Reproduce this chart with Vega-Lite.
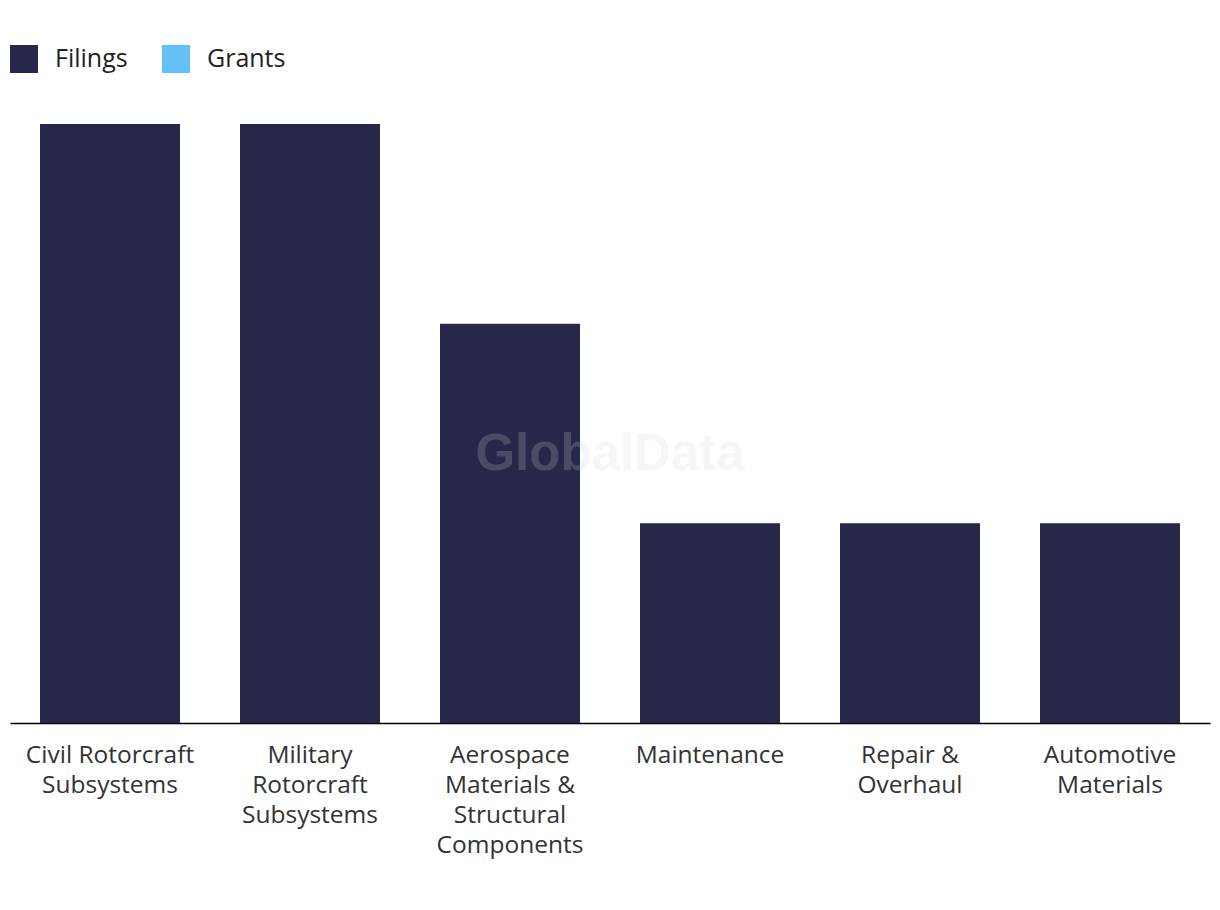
{
  "$schema": "https://vega.github.io/schema/vega-lite/v6.json",
  "width": 1200,
  "height": 599,
  "autosize": {"type": "none"},
  "padding": {"left": 10, "top": 124, "right": 10, "bottom": 187},
  "background": "white",
  "config": {
    "view": {"stroke": null},
    "font": "Open Sans"
  },
  "layer": [
    {
      "data": {
        "values": [
          {"category": "Civil Rotorcraft|Subsystems", "series": "Filings", "count": 3},
          {"category": "Military|Rotorcraft|Subsystems", "series": "Filings", "count": 3},
          {"category": "Aerospace|Materials &|Structural|Components", "series": "Filings", "count": 2},
          {"category": "Maintenance", "series": "Filings", "count": 1},
          {"category": "Repair &|Overhaul", "series": "Filings", "count": 1},
          {"category": "Automotive|Materials", "series": "Filings", "count": 1},
          {"category": "Civil Rotorcraft|Subsystems", "series": "Grants", "count": 0},
          {"category": "Military|Rotorcraft|Subsystems", "series": "Grants", "count": 0},
          {"category": "Aerospace|Materials &|Structural|Components", "series": "Grants", "count": 0},
          {"category": "Maintenance", "series": "Grants", "count": 0},
          {"category": "Repair &|Overhaul", "series": "Grants", "count": 0},
          {"category": "Automotive|Materials", "series": "Grants", "count": 0}
        ]
      },
      "mark": {"type": "bar"},
      "encoding": {
        "x": {
          "field": "category",
          "type": "nominal",
          "sort": null,
          "scale": {"paddingInner": 0.3, "paddingOuter": 0.15},
          "axis": {
            "title": null,
            "labelExpr": "split(datum.label, '|')",
            "labelAngle": 0,
            "labelFontSize": 24.5,
            "labelLineHeight": 30,
            "labelColor": "#333333",
            "labelPadding": 20,
            "labelLimit": 300,
            "ticks": false,
            "domainColor": "#000000",
            "domainWidth": 1.5,
            "labelFont": "Open Sans"
          }
        },
        "y": {
          "field": "count",
          "type": "quantitative",
          "stack": true,
          "scale": {"domain": [0, 3], "nice": false},
          "axis": null
        },
        "color": {
          "field": "series",
          "type": "nominal",
          "scale": {"domain": ["Filings", "Grants"], "range": ["#272849", "#64c1f8"]},
          "legend": {
            "title": null,
            "orient": "none",
            "legendX": 0,
            "legendY": -79,
            "direction": "horizontal",
            "symbolType": "square",
            "symbolSize": 784,
            "symbolStrokeWidth": 0,
            "symbolOpacity": 1,
            "labelFontSize": 25,
            "labelColor": "#222222",
            "labelOffset": 17,
            "columnPadding": 34,
            "labelFont": "Open Sans"
          }
        }
      }
    },
    {
      "data": {"values": [{"wm": "GlobalData", "pos": 1.342}]},
      "mark": {
        "type": "text",
        "font": "Liberation Sans",
        "fontWeight": "bold",
        "fontSize": 51,
        "color": "#d7d7d7",
        "opacity": 0.2,
        "align": "center",
        "baseline": "middle"
      },
      "encoding": {
        "text": {"field": "wm"},
        "x": {"value": {"expr": "width/2"}},
        "y": {"field": "pos", "type": "quantitative"}
      }
    }
  ]
}
